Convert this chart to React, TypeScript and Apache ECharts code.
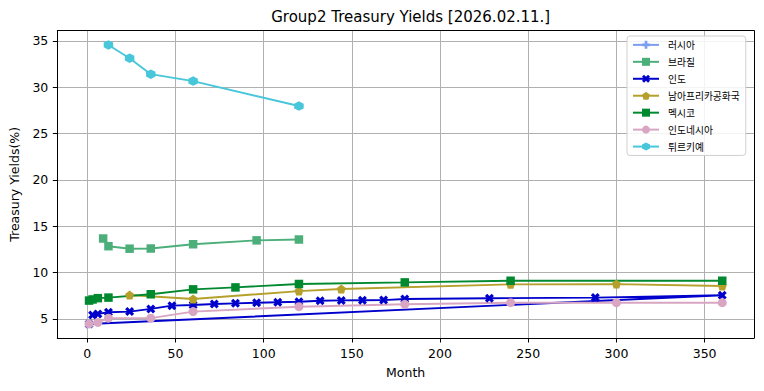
import React, { useEffect, useRef } from "react";
import * as echarts from "echarts";

const titleText = "Group2 Treasury Yields [2026.02.11.]";
const xAxisName = "Month";
const yAxisName = "Treasury Yields(%)";

const xTicks = [0, 50, 100, 150, 200, 250, 300, 350];
const yTicks = [5, 10, 15, 20, 25, 30, 35];

const seriesNames = ["러시아", "브라질", "인도", "남아프리카공화국", "멕시코", "인도네시아", "튀르키예"];

const russiaMonths: number[] = [];
const russiaYields: number[] = [];

const brazilMonths = [9, 12, 24, 36, 60, 96, 120];
const brazilYields = [13.68, 12.85, 12.58, 12.6, 13.06, 13.48, 13.57];

const indiaMonths = [3, 6, 12, 24, 36, 48, 60, 72, 84, 96, 108, 120, 132, 144, 156, 168, 180, 228, 288, 360, 1];
const indiaYields = [5.43, 5.54, 5.72, 5.79, 6.08, 6.43, 6.5, 6.61, 6.68, 6.75, 6.8, 6.85, 6.96, 7.0, 7.02, 7.03, 7.15, 7.23, 7.3, 7.55, 4.45];

const safricaMonths = [24, 60, 120, 144, 240, 300, 360];
const safricaYields = [7.58, 7.15, 8.0, 8.23, 8.73, 8.76, 8.55];

const mexicoMonths = [1, 3, 6, 12, 36, 60, 84, 120, 180, 240, 360];
const mexicoYields = [6.98, 7.1, 7.24, 7.3, 7.66, 8.19, 8.4, 8.77, 8.94, 9.12, 9.12];

const indonesiaMonths = [1, 6, 12, 36, 60, 120, 180, 240, 300, 360];
const indonesiaYields = [4.46, 4.62, 5.08, 5.08, 5.79, 6.32, 6.58, 6.75, 6.75, 6.75];

const turkeyMonths = [12, 24, 36, 60, 120];
const turkeyYields = [34.57, 33.14, 31.42, 30.67, 27.98];

const colors = ["#7b9ef0", "#4caf7a", "#0000cc", "#b5a02c", "#00892f", "#d8a6c2", "#48c6da"];

const SYM_PLUS = "path://M3.3,0H6.7V3.3H10V6.7H6.7V10H3.3V6.7H0V3.3H3.3Z";
const SYM_X = "path://M0,2.5L2.5,0L5,2.5L7.5,0L10,2.5L7.5,5L10,7.5L7.5,10L5,7.5L2.5,10L0,7.5L2.5,5Z";
const SYM_PENT = "path://M5,0L10,3.8L8.1,10L1.9,10L0,3.8Z";
const SYM_HEX = "path://M5,0L9.33,2.5L9.33,7.5L5,10L0.67,7.5L0.67,2.5Z";
const symbols = [SYM_PLUS, "rect", SYM_X, SYM_PENT, "rect", "circle", SYM_HEX];
const symbolSizes = [9, 8.5, 9, 9, 8.5, 9, 9.5];

const allMonths = [russiaMonths, brazilMonths, indiaMonths, safricaMonths, mexicoMonths, indonesiaMonths, turkeyMonths];
const allYields = [russiaYields, brazilYields, indiaYields, safricaYields, mexicoYields, indonesiaYields, turkeyYields];

const FONT = "'DejaVu Sans', sans-serif";

export default function App() {
  const ref = useRef<HTMLDivElement>(null);
  useEffect(() => {
    if (!ref.current) return;
    const chart = echarts.init(ref.current, undefined, { renderer: "svg" });
    const series = seriesNames.map((name, i) => ({
      name,
      type: "line",
      data: allMonths[i].map((m, j) => [m, allYields[i][j]]),
      symbol: symbols[i],
      symbolSize: symbolSizes[i],
      showAllSymbol: true,
      color: colors[i],
      itemStyle: { color: colors[i], borderWidth: 0 },
      lineStyle: { color: colors[i], width: 1.9 },
      xAxisIndex: 0,
      yAxisIndex: 0,
    }));
    const xMin = -17, xMax = 378, yMin = 2.94, yMax = 36.11;
    chart.setOption({
      animation: false,
      textStyle: { fontFamily: FONT },
      title: {
        text: titleText,
        left: 405.7,
        textAlign: "center",
        top: 4,
        textStyle: { fontFamily: FONT, fontSize: 15, fontWeight: "normal", color: "#000" },
      },
      legend: {
        orient: "vertical",
        left: 627,
        top: 36,
        padding: [4, 6, 4, 5],
        itemWidth: 26,
        itemHeight: 10,
        itemGap: 7.2,
        backgroundColor: "rgba(255,255,255,0.85)",
        borderColor: "#d0d0d0",
        borderWidth: 1,
        borderRadius: 3,
        data: seriesNames,
        textStyle: { fontFamily: "'Noto Sans CJK KR', sans-serif", fontSize: 9.75, color: "#000", padding: [0, 0, 0, 4] },
      },
      grid: { left: 57.3, top: 30.7, width: 696.7, height: 307.3, containLabel: false },
      xAxis: [
        {
          type: "value",
          min: xMin,
          max: xMax,
          minInterval: 50,
          maxInterval: 50,
          name: xAxisName,
          nameLocation: "middle",
          nameGap: 28,
          nameTextStyle: { fontFamily: FONT, fontSize: 12.5, color: "#000" },
          axisLine: { show: true, onZero: false, lineStyle: { color: "#000", width: 1 } },
          axisTick: { show: true, length: 4.5, inside: false, customValues: xTicks, lineStyle: { color: "#000" } },
          axisLabel: { show: true, margin: 9, customValues: xTicks, fontFamily: FONT, fontSize: 12.5, color: "#000" },
          splitLine: { show: true, lineStyle: { color: "#b0b0b0", width: 1 } },
        },
        {
          type: "value",
          position: "top",
          min: xMin,
          max: xMax,
          axisLine: { show: true, onZero: false, lineStyle: { color: "#000", width: 1 } },
          axisTick: { show: false },
          axisLabel: { show: false },
          splitLine: { show: false },
        },
      ],
      yAxis: [
        {
          type: "value",
          min: yMin,
          max: yMax,
          minInterval: 5,
          maxInterval: 5,
          name: yAxisName,
          nameLocation: "middle",
          nameGap: 35,
          nameTextStyle: { fontFamily: FONT, fontSize: 12.5, color: "#000" },
          axisLine: { show: true, onZero: false, lineStyle: { color: "#000", width: 1 } },
          axisTick: { show: true, length: 4.5, inside: false, customValues: yTicks, lineStyle: { color: "#000" } },
          axisLabel: { show: true, margin: 9, customValues: yTicks, fontFamily: FONT, fontSize: 12.5, color: "#000" },
          splitLine: { show: true, lineStyle: { color: "#b0b0b0", width: 1 } },
        },
        {
          type: "value",
          position: "right",
          min: yMin,
          max: yMax,
          axisLine: { show: true, onZero: false, lineStyle: { color: "#000", width: 1 } },
          axisTick: { show: false },
          axisLabel: { show: false },
          splitLine: { show: false },
        },
      ],
      series,
    });
    return () => chart.dispose();
  }, []);
  return (
    <div
      ref={ref}
      style={{ position: "fixed", left: 0, top: 0, width: 764, height: 391, background: "#fff" }}
    />
  );
}
